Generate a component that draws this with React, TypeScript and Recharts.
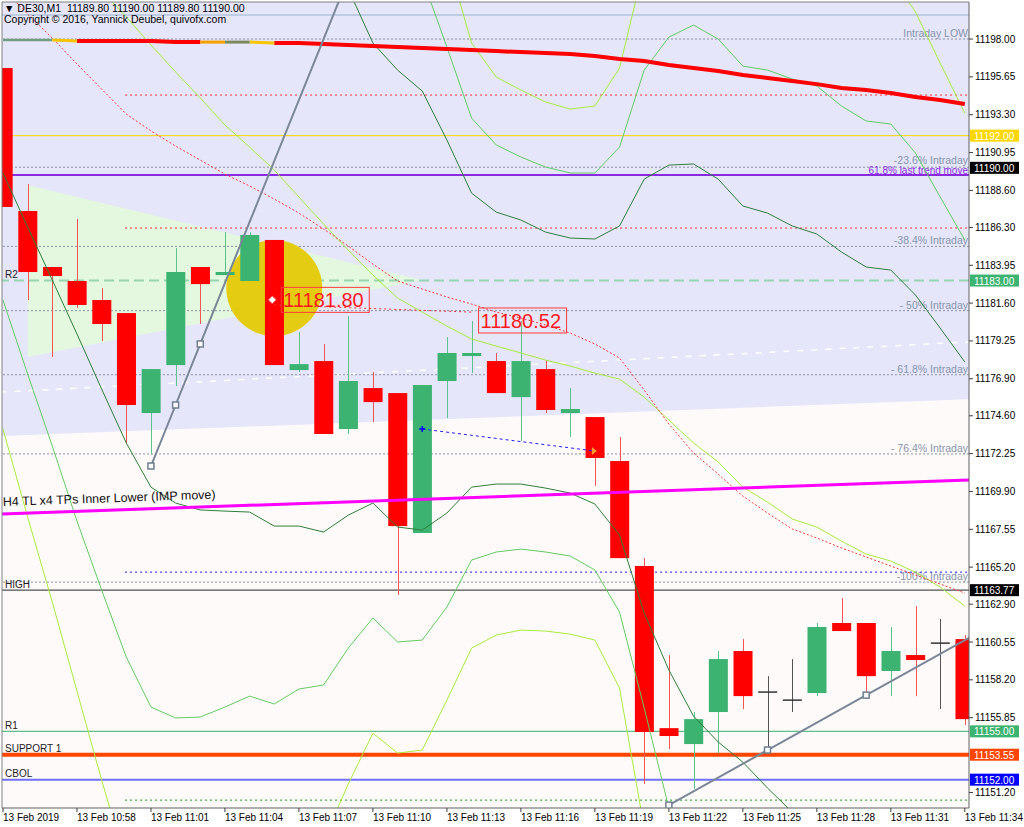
import React from 'react'
import {
  Area,
  Bar,
  CartesianGrid,
  ComposedChart,
  Line,
  ReferenceLine,
  Scatter,
  XAxis,
  YAxis,
} from 'recharts'

const FONT = '"Liberation Sans", Arial, sans-serif'

const X_MIN = -0.04
const X_MAX = 39.17
const Y_MIN = 11150.24
const Y_MAX = 11200.3

const xTickPositions = [0, 3, 6, 9, 12, 15, 18, 21, 24, 27, 30, 33, 36, 39]
const xTickLabels = [
  '13 Feb 2019', '13 Feb 10:58', '13 Feb 11:01', '13 Feb 11:04', '13 Feb 11:07',
  '13 Feb 11:10', '13 Feb 11:13', '13 Feb 11:16', '13 Feb 11:19', '13 Feb 11:22',
  '13 Feb 11:25', '13 Feb 11:28', '13 Feb 11:31', '13 Feb 11:34',
]
const yTicks = [
  11198.0, 11195.65, 11193.3, 11190.95, 11188.6, 11186.3, 11183.95, 11181.6, 11179.25, 11176.9,
  11174.6, 11172.25, 11169.9, 11167.55, 11165.2, 11162.9, 11160.55, 11158.2, 11155.85, 11151.2,
]

// M1 candles, 10:55 .. 11:34
const opens = [
  11196.2, 11187.32, 11183.84, 11182.97, 11181.79, 11180.98, 11174.77, 11177.75, 11183.84, 11183.34,
  11182.97, 11185.52, 11177.44, 11178.0, 11173.78, 11176.32, 11176.01, 11167.32, 11176.76, 11178.31,
  11178.0, 11175.76, 11177.5, 11174.77, 11174.52, 11171.79, 11165.27, 11155.2, 11154.21, 11156.2,
  11159.99, 11157.44, 11156.94, 11157.38, 11161.73, 11161.73, 11158.75, 11159.74, 11160.48, 11160.73,
]
const highs = [
  11196.2, 11188.99, 11183.84, 11186.82, 11182.53, 11180.98, 11177.5, 11185.02, 11183.84, 11186.01,
  11186.01, 11185.52, 11179.8, 11179.06, 11180.8, 11177.32, 11176.01, 11176.51, 11179.49, 11180.48,
  11178.5, 11180.48, 11178.0, 11176.32, 11174.52, 11173.28, 11165.76, 11159.74, 11156.2, 11159.99,
  11160.73, 11158.43, 11159.49, 11161.73, 11163.28, 11161.73, 11161.48, 11162.78, 11161.98, 11160.98,
]
const lows = [
  11187.57, 11181.79, 11178.25, 11181.29, 11179.24, 11172.91, 11172.22, 11176.45, 11180.3, 11183.34,
  11182.97, 11177.75, 11177.32, 11173.47, 11173.47, 11174.21, 11163.47, 11167.32, 11174.46, 11177.25,
  11176.01, 11173.03, 11174.77, 11173.28, 11170.24, 11165.76, 11151.73, 11153.9, 11151.42, 11153.65,
  11156.39, 11153.84, 11156.2, 11157.19, 11161.23, 11157.13, 11157.19, 11157.19, 11156.39, 11155.39,
]
const closes = [
  11187.57, 11183.53, 11183.28, 11181.48, 11180.3, 11175.27, 11177.5, 11183.53, 11182.78, 11183.53,
  11185.83, 11177.75, 11177.81, 11173.47, 11176.76, 11175.45, 11167.75, 11176.51, 11178.5, 11178.5,
  11176.01, 11178.0, 11174.96, 11175.02, 11171.98, 11165.76, 11154.96, 11154.71, 11155.76, 11159.49,
  11157.19, 11157.44, 11156.94, 11161.48, 11161.23, 11158.43, 11159.99, 11159.43, 11160.48, 11155.76,
]

// indicators
const maLine = [
  11197.94, 11197.94, 11197.94, 11197.88, 11197.88, 11197.88, 11197.88, 11197.81, 11197.81, 11197.81,
  11197.81, 11197.75, 11197.75, 11197.69, 11197.63, 11197.57, 11197.5, 11197.44, 11197.38, 11197.32,
  11197.25, 11197.19, 11197.13, 11197.07, 11196.94, 11196.76, 11196.63, 11196.39, 11196.2, 11196.01,
  11195.76, 11195.58, 11195.39, 11195.2, 11194.96, 11194.83, 11194.65, 11194.4, 11194.21, 11193.96,
]
const maDotted = [
  11201.17, 11199.55, 11198.06, 11196.45, 11194.89, 11193.34, 11192.29, 11191.35, 11190.48, 11189.61,
  11188.87, 11188.06, 11187.19, 11186.2, 11185.14, 11184.02, 11182.97, 11182.47, 11181.98, 11181.54,
  11181.04, 11180.67, 11180.24, 11179.74, 11179.06, 11178.19, 11176.2, 11174.09, 11172.29, 11170.98,
  11169.61, 11168.56, 11167.57, 11167.01, 11166.39, 11165.83, 11165.27, 11164.71, 11164.15, 11163.59,
]
const limeMid = [
  null, null, null, null, 11200.98, 11199.37, 11197.63, 11195.95, 11194.34, 11192.66,
  11191.29, 11189.86, 11188.19, 11186.51, 11184.89, 11183.34, 11181.91, 11181.04, 11180.17, 11179.37,
  11178.93, 11178.5, 11178.06, 11177.69, 11177.25, 11176.88, 11175.76, 11174.34, 11172.91, 11171.73,
  11170.17, 11169.24, 11168.19, 11167.69, 11166.82, 11166.01, 11165.58, 11164.89, 11163.96, 11162.78,
]
const limeUpper = [
  null, null, null, null, null, null, null, null, null, null,
  null, null, null, null, null, null, null, null, 11203.09, 11197.75,
  11195.64, 11194.83, 11194.09, 11193.65, 11193.84, 11196.2, 11202.53, null, null, null,
  null, null, null, null, null, null, 11201.98, 11199.68, 11196.51, 11193.4,
]
const limeLower = [
  11173.78, 11168.31, 11163.03, 11157.5, 11151.98, 11146.7, null, null, null, null,
  null, null, null, 11148.25, 11151.73, 11154.89, 11153.65, 11153.84, 11156.94, 11160.17,
  11160.98, 11161.29, 11161.23, 11161.04, 11160.67, 11157.69, 11148.99, null, null, null,
  null, null, null, null, null, null, null, null, null, null,
]
const greenUpper = [
  null, null, null, null, null, null, null, null, null, null,
  null, null, null, null, null, null, null, 11201.79, 11197.5, 11193.09,
  11191.42, 11190.67, 11190.05, 11189.68, 11189.68, 11191.29, 11196.07, 11198.12, 11198.87, 11198.0,
  11196.32, 11196.07, 11195.52, 11195.08, 11193.84, 11192.91, 11192.72, 11190.92, 11188.19, 11185.52,
]
const greenLower = [
  11181.79, 11177.19, 11172.72, 11168.06, 11163.78, 11159.61, 11156.51, 11155.83, 11155.89, 11156.51,
  11157.19, 11156.7, 11157.63, 11157.88, 11160.17, 11162.04, 11160.55, 11160.67, 11162.72, 11165.64,
  11166.14, 11166.32, 11166.14, 11165.89, 11165.02, 11162.41, 11156.45, 11150.24, 11144.52, null,
  null, null, null, null, null, null, null, null, null, null,
]
const darkUpper = [
  null, null, null, null, null, null, null, null, null, null,
  null, null, null, null, 11201.11, 11197.75, 11196.07, 11194.77, 11191.73, 11188.43,
  11187.25, 11186.76, 11186.01, 11185.64, 11185.58, 11186.39, 11189.3, 11190.17, 11190.24, 11189.3,
  11187.63, 11187.19, 11186.39, 11185.89, 11184.77, 11183.84, 11183.65, 11182.1, 11180.05, 11177.94,
]
const darkLower = [
  11189.68, 11186.32, 11183.03, 11179.68, 11176.26, 11172.91, 11170.17, 11169.18, 11168.75, 11168.68,
  11168.62, 11167.75, 11167.75, 11167.38, 11168.43, 11169.18, 11167.69, 11167.5, 11168.56, 11170.17,
  11170.36, 11170.36, 11170.11, 11169.8, 11169.12, 11167.19, 11162.35, 11158.81, 11155.95, 11154.34,
  11153.09, 11151.48, 11149.99, 11148.25, null, null, null, null, null, null,
]

// drawn objects
const fibLevels = [11198.0, 11190.04, 11185.12, 11181.13, 11177.15, 11172.23, 11164.27]
const fibNames = [
  'Intraday LOW', '-23.6% Intraday', '-38.4% Intraday', '- 50% Intraday',
  '- 61.8% Intraday', '- 76.4% Intraday', '-100% Intraday',
]
const levelPrices = [11199.49, 11192.0, 11190.0, 11189.55, 11183.0, 11163.77, 11155.0, 11153.55, 11152.0]
const levelNames = ['', '', '', '61.8% last trend move', 'R2', 'HIGH', 'R1', 'SUPPORT 1', 'CBOL']
const levelTags = ['', '11192.00', '11190.00', '', '11183.00', '11163.77', '11155.00', '11153.55', '11152.00']
const dottedPrices = [11194.52, 11186.26, 11164.89, 11150.73]
const dottedFrom = 4.95

const channelZone = [
  { x: -0.1, band: [11173.34, 11202] },
  { x: 39.3, band: [11175.64, 11202] },
]
const wedgeZone = [
  { x: 1, band: [11178.25, 11188.93] },
  { x: 17, band: [11183.03, 11183.03] },
]
const trendUp = [
  { x: 6, y: 11171.48, m: 1 },
  { x: 7, y: 11175.27, m: 1 },
  { x: 8, y: 11179.06, m: 1 },
  { x: 14, y: 11201.79 },
]
const trendLow = [
  { x: 27, y: 11150.42, m: 1 },
  { x: 31, y: 11153.84, m: 1 },
  { x: 35, y: 11157.25, m: 1 },
  { x: 39.3, y: 11160.92 },
]
const h4Line = [11168.5, 11170.61]
const whiteDash = [
  { x: -0.1, y: 11176.07 },
  { x: 39.3, y: 11179.2 },
]
const blueLink = [
  { x: 17, y: 11173.78, m: 'start' },
  { x: 24, y: 11172.41, m: 'end' },
]
const redLink = [
  { x: 11, y: 11181.48 },
  { x: 19, y: 11181.04 },
]
const priceNotes = [
  { x: 11, y: 11181.8, t: '11181.80', d: 1 },
  { x: 19, y: 11180.52, t: '11180.52' },
]
const highlight = [{ x: 11, y: 11182.53 }]

const rows = opens.map((o, i) => ({
  x: i,
  o,
  h: highs[i],
  l: lows[i],
  c: closes[i],
  range: [lows[i], highs[i]],
  maRed: i < 3 || i === 9 || i === 10 ? null : maLine[i],
  maGrey: i <= 2 ? maLine[i] : null,
  maYellow: i === 2 || i === 3 || i === 10 || i === 11 ? maLine[i] : null,
  maOrange: i === 8 || i === 9 ? maLine[i] : null,
  maOlive: i === 9 || i === 10 ? maLine[i] : null,
  maDotted: maDotted[i],
  limeMid: limeMid[i],
  limeUpper: limeUpper[i],
  limeLower: limeLower[i],
  greenUpper: greenUpper[i],
  greenLower: greenLower[i],
  darkUpper: darkUpper[i],
  darkLower: darkLower[i],
}))

function Candle(props: any) {
  const { x, y, width, height, payload } = props
  if (!payload || !Number.isFinite(y)) return <g />
  const { o, h, l, c } = payload
  const k = h > l ? height / (h - l) : 0
  const py = (v: number) => y + (h - v) * k
  const cx = Math.round(x + width / 2) + 0.5
  if (o === c) {
    return (
      <g>
        <line x1={cx} x2={cx} y1={py(h)} y2={py(l)} stroke="#555" />
        <line x1={x} x2={x + width} y1={py(o)} y2={py(o)} stroke="#333" strokeWidth={1.5} />
      </g>
    )
  }
  const up = c > o
  const top = py(Math.max(o, c))
  const bottom = py(Math.min(o, c))
  return (
    <g>
      <line x1={cx} x2={cx} y1={py(h)} y2={py(l)} stroke={up ? '#5cc48a' : '#f35454'} />
      <rect
        x={x}
        y={top}
        width={width}
        height={Math.max(bottom - top, 1)}
        fill={up ? '#3cb371' : '#ff0000'}
      />
    </g>
  )
}

function SquareDot(props: any) {
  const { cx, cy, payload } = props
  if (!payload || !payload.m || !Number.isFinite(cy)) return <g />
  return (
    <rect x={cx - 3} y={cy - 3} width={6} height={6} fill="#fffafa" stroke="#6f7f90" strokeWidth={1.5} />
  )
}

function LinkDot(props: any) {
  const { cx, cy, payload } = props
  if (!payload || !Number.isFinite(cy)) return <g />
  if (payload.m === 'start') {
    return (
      <g stroke="#0000ff" strokeWidth={1.5}>
        <line x1={cx - 3} x2={cx + 3} y1={cy} y2={cy} />
        <line x1={cx} x2={cx} y1={cy - 3} y2={cy + 3} />
      </g>
    )
  }
  return <path d={`M${cx - 3},${cy - 4} L${cx + 2},${cy} L${cx - 3},${cy + 4} Z`} fill="#f0a030" />
}

function PriceNote(props: any) {
  const { cx, cy, payload } = props
  if (!payload) return <g />
  const left = cx + 7
  return (
    <g>
      {payload.d ? (
        <path
          d={`M${cx - 2},${cy - 4} L${cx + 2},${cy} L${cx - 2},${cy + 4} L${cx - 6},${cy} Z`}
          fill="#fff"
          stroke="#ff4040"
        />
      ) : null}
      <rect x={left} y={cy - 12.5} width={88} height={25} fill="none" stroke="#ff3b3b" />
      <text x={left + 2} y={cy + 7.5} fill="#ff1a1a" fontSize={20} fontFamily={FONT}>
        {payload.t}
      </text>
    </g>
  )
}

function Highlight(props: any) {
  const { cx, cy } = props
  return <circle cx={cx} cy={cy} r={48} fill="#e4cc12" />
}

function RightNote(props: any) {
  const { viewBox, text, color, lift } = props
  if (!viewBox) return <g />
  return (
    <text
      x={viewBox.x + viewBox.width - 1}
      y={viewBox.y - (lift ?? 2)}
      textAnchor="end"
      fill={color}
      fontSize={10.5}
      fontFamily={FONT}
    >
      {text}
    </text>
  )
}

function LevelLabel(props: any) {
  const { viewBox, name, nameColor, nameRight, tag, tagBg } = props
  if (!viewBox) return <g />
  const { x, y, width } = viewBox
  const right = x + width
  return (
    <g fontFamily={FONT}>
      {name && nameRight ? (
        <text x={right - 1} y={y - 1} textAnchor="end" fill={nameColor} fontSize={10}>
          {name}
        </text>
      ) : null}
      {name && !nameRight ? (
        <text x={x + 3} y={y - 2.5} fill="#222" fontSize={10}>
          {name}
        </text>
      ) : null}
      {tag ? (
        <g>
          <rect x={right + 1} y={y - 6} width={49} height={12} fill={tagBg} />
          <text x={right + 5} y={y + 4} fill="#fff" fontSize={10}>
            {tag}
          </text>
        </g>
      ) : null}
    </g>
  )
}

function SlantLabel(props: any) {
  const { viewBox, text } = props
  if (!viewBox) return <g />
  const bx = viewBox.x + 1
  const by = viewBox.y + viewBox.height - 8
  return (
    <text
      x={bx}
      y={by}
      fill="#111"
      fontSize={12.5}
      fontFamily={FONT}
      transform={`rotate(-2 ${bx} ${by})`}
    >
      {text}
    </text>
  )
}

function TimeTick(props: any) {
  const { x, y, payload } = props
  const i = xTickPositions.indexOf(payload.value)
  return (
    <text x={x} y={y + 7} fill="#000" fontSize={10} fontFamily={FONT}>
      {i >= 0 ? xTickLabels[i] : ''}
    </text>
  )
}

const levelStyles = [
  { stroke: '#b0c4de', width: 1.5 },
  { stroke: '#ffd700', width: 1, tagBg: '#ffd700' },
  { stroke: 'none', width: 1, tagBg: '#000000' },
  { stroke: '#8a2be2', width: 2, nameColor: '#8a2be2', nameRight: true },
  { stroke: '#95d5b0', width: 2, dash: '10 5', tagBg: '#3cb371' },
  { stroke: '#505050', width: 1.2, tagBg: '#000000' },
  { stroke: '#5cc08a', width: 1.2, tagBg: '#3cb371' },
  { stroke: '#ff4500', width: 4, tagBg: '#ff4500' },
  { stroke: '#7070ff', width: 2, tagBg: '#0000ff' },
]
const dottedColors = ['#ff3030', '#ff3030', '#1f1fff', '#1a9a1a']

export default function App() {
  return (
    <div style={{ position: 'absolute', left: 0, top: 0, width: 1024, height: 827, background: '#fff' }}>
      <ComposedChart
        width={1024}
        height={827}
        data={rows}
        margin={{ top: 2, right: 0, bottom: 0, left: 2 }}
      >
        <CartesianGrid horizontal={false} vertical={false} fill="#fffafa" stroke="none" />
        <XAxis
          type="number"
          dataKey="x"
          domain={[X_MIN, X_MAX]}
          allowDataOverflow
          ticks={xTickPositions}
          interval={0}
          height={19}
          tickSize={4}
          tickMargin={2}
          tick={<TimeTick />}
          tickLine={{ stroke: '#404040' }}
          axisLine={{ stroke: '#606060' }}
        />
        <XAxis xAxisId="aux" type="number" dataKey="x" domain={[X_MIN, X_MAX]} allowDataOverflow hide />
        <YAxis
          orientation="right"
          type="number"
          domain={[Y_MIN, Y_MAX]}
          allowDataOverflow
          ticks={yTicks}
          interval={0}
          width={55}
          tickSize={4}
          tickMargin={2}
          tick={{ fontSize: 10, fill: '#000', fontFamily: FONT }}
          tickFormatter={(v: number) => v.toFixed(2)}
          tickLine={{ stroke: '#404040' }}
          axisLine={{ stroke: '#606060' }}
        />

        <Area
          xAxisId="aux"
          data={channelZone}
          dataKey="band"
          type="linear"
          stroke="none"
          fill="#e6e6fa"
          fillOpacity={1}
          dot={false}
          activeDot={false}
          isAnimationActive={false}
          zIndex={100}
        />
        <Area
          xAxisId="aux"
          data={wedgeZone}
          dataKey="band"
          type="linear"
          stroke="none"
          fill="#e4f7df"
          fillOpacity={1}
          dot={false}
          activeDot={false}
          isAnimationActive={false}
          zIndex={110}
        />

        <Line
          xAxisId="aux"
          data={whiteDash}
          dataKey="y"
          stroke="#ffffff"
          strokeWidth={1.5}
          strokeDasharray="6 8"
          dot={false}
          activeDot={false}
          isAnimationActive={false}
          zIndex={150}
        />

        {fibLevels.map((v, i) => (
          <ReferenceLine
            key={`fib-${i}`}
            y={v}
            stroke="#8c90a4"
            strokeDasharray="2 2"
            zIndex={200}
            label={<RightNote text={fibNames[i]} color="#8795ab" lift={i === 1 ? 3 : 2} />}
          />
        ))}
        {dottedPrices.map((v, i) => (
          <ReferenceLine
            key={`dot-${i}`}
            segment={[
              { x: dottedFrom, y: v },
              { x: X_MAX, y: v },
            ]}
            stroke={dottedColors[i]}
            strokeDasharray="2 3"
            zIndex={200}
          />
        ))}
        {levelPrices.map((v, i) => {
          const s = levelStyles[i]
          return (
            <ReferenceLine
              key={`lvl-${i}`}
              y={v}
              stroke={s.stroke}
              strokeWidth={s.width}
              strokeDasharray={s.dash}
              zIndex={200}
              label={
                <LevelLabel
                  name={levelNames[i]}
                  nameColor={s.nameColor}
                  nameRight={s.nameRight}
                  tag={levelTags[i]}
                  tagBg={s.tagBg}
                />
              }
            />
          )
        })}

        <Scatter
          xAxisId="aux"
          data={highlight}
          dataKey="y"
          shape={<Highlight />}
          isAnimationActive={false}
          zIndex={250}
        />

        <Bar dataKey="range" barSize={19} shape={<Candle />} isAnimationActive={false} zIndex={300} />

        <Line dataKey="limeUpper" stroke="#a8ec3c" strokeWidth={1} dot={false} activeDot={false} isAnimationActive={false} zIndex={400} />
        <Line dataKey="limeLower" stroke="#a8ec3c" strokeWidth={1} dot={false} activeDot={false} isAnimationActive={false} zIndex={400} />
        <Line dataKey="limeMid" stroke="#a8ec3c" strokeWidth={1} dot={false} activeDot={false} isAnimationActive={false} zIndex={400} />
        <Line dataKey="greenUpper" stroke="#62cc62" strokeWidth={1} dot={false} activeDot={false} isAnimationActive={false} zIndex={400} />
        <Line dataKey="greenLower" stroke="#62cc62" strokeWidth={1} dot={false} activeDot={false} isAnimationActive={false} zIndex={400} />
        <Line dataKey="darkUpper" stroke="#2f7f3a" strokeWidth={1} dot={false} activeDot={false} isAnimationActive={false} zIndex={400} />
        <Line dataKey="darkLower" stroke="#2f7f3a" strokeWidth={1} dot={false} activeDot={false} isAnimationActive={false} zIndex={400} />
        <Line
          dataKey="maDotted"
          stroke="#ff3b3b"
          strokeWidth={1}
          strokeDasharray="2 2"
          dot={false}
          activeDot={false}
          isAnimationActive={false}
          zIndex={400}
        />

        <Line dataKey="maRed" stroke="#ff0000" strokeWidth={4} dot={false} activeDot={false} isAnimationActive={false} zIndex={420} />
        <Line dataKey="maGrey" stroke="#6f9f7f" strokeWidth={2.5} dot={false} activeDot={false} isAnimationActive={false} zIndex={420} />
        <Line dataKey="maYellow" stroke="#f7c400" strokeWidth={3} dot={false} activeDot={false} isAnimationActive={false} zIndex={420} />
        <Line dataKey="maOrange" stroke="#f5a000" strokeWidth={3} dot={false} activeDot={false} isAnimationActive={false} zIndex={420} />
        <Line dataKey="maOlive" stroke="#7a8a5a" strokeWidth={3} dot={false} activeDot={false} isAnimationActive={false} zIndex={420} />

        <ReferenceLine
          segment={[
            { x: X_MIN, y: h4Line[0] },
            { x: X_MAX, y: h4Line[1] },
          ]}
          stroke="#ff00ff"
          strokeWidth={3}
          zIndex={450}
          label={<SlantLabel text="H4 TL x4 TPs Inner Lower (IMP move)" />}
        />

        <Line
          xAxisId="aux"
          data={trendUp}
          dataKey="y"
          stroke="#7a8797"
          strokeWidth={2}
          dot={<SquareDot />}
          activeDot={false}
          isAnimationActive={false}
          zIndex={460}
        />
        <Line
          xAxisId="aux"
          data={trendLow}
          dataKey="y"
          stroke="#7a8797"
          strokeWidth={2}
          dot={<SquareDot />}
          activeDot={false}
          isAnimationActive={false}
          zIndex={460}
        />
        <Line
          xAxisId="aux"
          data={blueLink}
          dataKey="y"
          stroke="#2020ff"
          strokeWidth={1}
          strokeDasharray="3 3"
          dot={<LinkDot />}
          activeDot={false}
          isAnimationActive={false}
          zIndex={460}
        />
        <Line
          xAxisId="aux"
          data={redLink}
          dataKey="y"
          stroke="#ff3030"
          strokeWidth={1}
          strokeDasharray="2 3"
          dot={false}
          activeDot={false}
          isAnimationActive={false}
          zIndex={460}
        />
        <Scatter
          xAxisId="aux"
          data={priceNotes}
          dataKey="y"
          shape={<PriceNote />}
          isAnimationActive={false}
          zIndex={600}
        />

        <ReferenceLine x={X_MIN} stroke="#808080" zIndex={600} />
        <ReferenceLine y={Y_MAX} stroke="#808080" zIndex={600} />
      </ComposedChart>

      <div
        style={{
          position: 'absolute',
          left: 4,
          top: 3,
          fontFamily: FONT,
          fontSize: 10.5,
          lineHeight: '11px',
          color: '#000',
          whiteSpace: 'pre',
        }}
      >
        {'▼ DE30,M1  11189.80 11190.00 11189.80 11190.00'}
        <br />
        {'Copyright © 2016, Yannick Deubel, quivofx.com'}
      </div>
    </div>
  )
}
